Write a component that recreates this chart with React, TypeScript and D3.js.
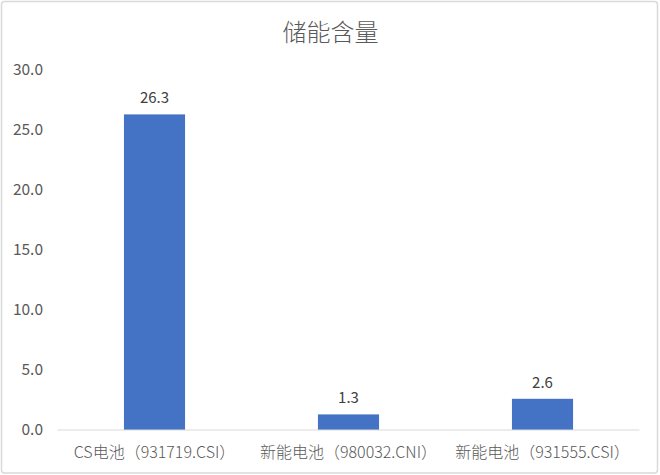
import { useEffect, useRef } from 'react';
import * as d3 from 'd3';

const categories = ['CS电池（931719.CSI）', '新能电池（980032.CNI）', '新能电池（931555.CSI）'];
const values = [26.3, 1.3, 2.6];
const yTicks = [0, 5, 10, 15, 20, 25, 30];
const title = '储能含量';

const FONT = '"Noto Sans CJK SC", "Noto Sans", sans-serif';

export default function App() {
    const svgRef = useRef<SVGSVGElement>(null);

    useEffect(() => {
        document.body.style.margin = '0';
        if (!svgRef.current) return;

        const width = 660;
        const height = 475;
        const margin = { top: 70, right: 20, bottom: 45, left: 57.5 };

        const svg = d3.select(svgRef.current);
        svg.selectAll('*').remove();

        // Chart frame
        svg.append('rect')
            .attr('x', 1.5)
            .attr('y', 1.5)
            .attr('width', width - 4)
            .attr('height', height - 3.5)
            .attr('rx', 3)
            .attr('fill', '#fff')
            .attr('stroke', '#d9d9d9')
            .attr('stroke-width', 1.5);

        // Scales
        const x = d3.scaleBand<string>()
            .domain(categories)
            .range([margin.left, 639.5])
            .paddingInner(0.685)
            .paddingOuter(0.3425);

        const y = d3.scaleLinear()
            .domain([0, 30])
            .range([height - margin.bottom, margin.top]);

        // Title
        svg.append('text')
            .attr('x', width / 2 + 0.5)
            .attr('y', 41)
            .attr('text-anchor', 'middle')
            .style('font-family', FONT)
            .style('font-size', '24px')
            .style('font-weight', 300)
            .style('fill', '#595959')
            .text(title);

        // Y axis labels
        svg.append('g')
            .selectAll('text')
            .data(yTicks)
            .enter()
            .append('text')
            .attr('x', 43)
            .attr('y', d => y(d))
            .attr('dy', '0.35em')
            .attr('text-anchor', 'end')
            .style('font-family', FONT)
            .style('font-size', '15.5px')
            .style('fill', '#595959')
            .text(d => d.toFixed(1));

        // Bars
        svg.append('g')
            .selectAll('rect')
            .data(values)
            .enter()
            .append('rect')
            .attr('x', (d, i) => x(categories[i]) as number)
            .attr('y', d => y(d))
            .attr('width', x.bandwidth())
            .attr('height', d => y(0) - y(d))
            .attr('fill', '#4472c4');

        // Baseline
        svg.append('line')
            .attr('x1', margin.left)
            .attr('x2', 639.5)
            .attr('y1', y(0))
            .attr('y2', y(0))
            .attr('stroke', '#d9d9d9')
            .attr('stroke-width', 1);

        // Data labels
        svg.append('g')
            .selectAll('text')
            .data(values)
            .enter()
            .append('text')
            .attr('x', (d, i) => (x(categories[i]) as number) + x.bandwidth() / 2)
            .attr('y', d => y(d) - 11)
            .attr('text-anchor', 'middle')
            .style('font-family', FONT)
            .style('font-size', '15px')
            .style('fill', '#404040')
            .text(d => d.toFixed(1));

        // Category labels
        svg.append('g')
            .selectAll('text')
            .data(categories)
            .enter()
            .append('text')
            .attr('x', d => (x(d) as number) + x.bandwidth() / 2)
            .attr('y', y(0) + 22)
            .attr('dy', '0.35em')
            .attr('text-anchor', 'middle')
            .style('font-family', FONT)
            .style('font-size', '16px')
            .style('font-weight', 300)
            .style('fill', '#595959')
            .text(d => d);
    }, []);

    return <svg ref={svgRef} width={660} height={475} style={{ display: 'block' }} />;
}
